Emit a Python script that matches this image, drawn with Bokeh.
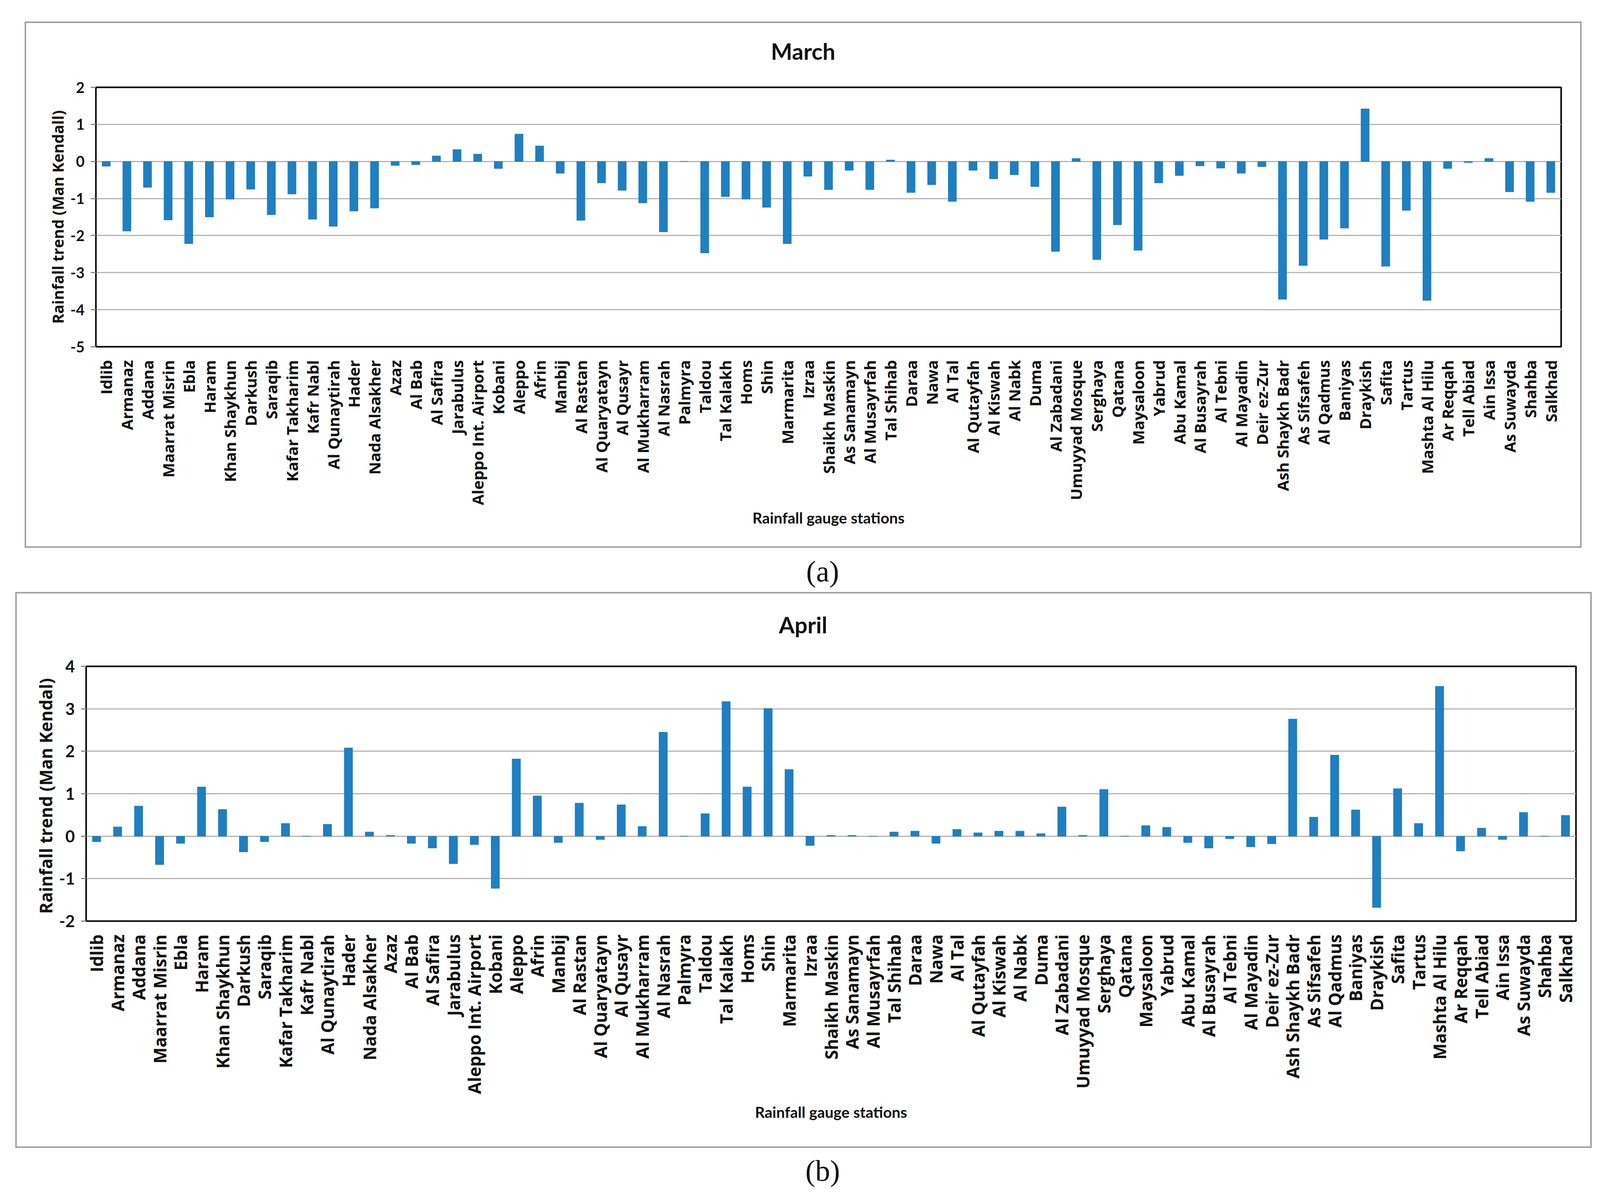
import math
from bokeh.plotting import figure
from bokeh.models import FactorRange, Range1d, FixedTicker, Div
from bokeh.layouts import column
from bokeh.embed import file_html
from bokeh.resources import INLINE

stations = ["Idlib", "Armanaz", "Addana", "Maarrat Misrin", "Ebla", "Haram", "Khan Shaykhun",
            "Darkush", "Saraqib", "Kafar Takharim", "Kafr Nabl", "Al Qunaytirah", "Hader",
            "Nada Alsakher", "Azaz", "Al Bab", "Al Safira", "Jarabulus", "Aleppo Int. Airport",
            "Kobani", "Aleppo", "Afrin", "Manbij", "Al Rastan", "Al Quaryatayn", "Al Qusayr",
            "Al Mukharram", "Al Nasrah", "Palmyra", "Taldou", "Tal Kalakh", "Homs", "Shin",
            "Marmarita", "Izraa", "Shaikh Maskin", "As Sanamayn", "Al Musayrfah", "Tal Shihab",
            "Daraa", "Nawa", "Al Tal", "Al Qutayfah", "Al Kiswah", "Al Nabk", "Duma",
            "Al Zabadani", "Umuyyad Mosque", "Serghaya", "Qatana", "Maysaloon", "Yabrud",
            "Abu Kamal", "Al Busayrah", "Al Tebni", "Al Mayadin", "Deir ez-Zur",
            "Ash Shaykh Badr", "As Sifsafeh", "Al Qadmus", "Baniyas", "Draykish", "Safita",
            "Tartus", "Mashta Al Hilu", "Ar Reqqah", "Tell Abiad", "Ain Issa", "As Suwayda",
            "Shahba", "Salkhad"]

march = [-0.13, -1.88, -0.70, -1.58, -2.22, -1.50, -1.02, -0.75, -1.44, -0.88,
         -1.56, -1.75, -1.34, -1.26, -0.11, -0.09, 0.15, 0.32, 0.20, -0.19,
         0.74, 0.42, -0.32, -1.59, -0.58, -0.78, -1.12, -1.90, 0.0, -2.47,
         -0.95, -1.02, -1.24, -2.22, -0.40, -0.76, -0.24, -0.76, 0.04, -0.84,
         -0.63, -1.08, -0.24, -0.47, -0.36, -0.68, -2.43, 0.08, -2.65, -1.71,
         -2.40, -0.58, -0.38, -0.12, -0.18, -0.32, -0.14, -3.72, -2.81, -2.10,
         -1.80, 1.42, -2.83, -1.32, -3.75, -0.19, -0.03, 0.08, -0.82, -1.08, -0.84]

april = [-0.13, 0.22, 0.71, -0.67, -0.17, 1.16, 0.63, -0.37, -0.13, 0.30,
         0.0, 0.28, 2.08, 0.10, 0.02, -0.17, -0.28, -0.65, -0.20, -1.23,
         1.82, 0.95, -0.15, 0.78, -0.08, 0.74, 0.23, 2.45, 0.0, 0.53,
         3.17, 1.16, 3.01, 1.57, -0.22, 0.02, 0.02, 0.0, 0.10, 0.12,
         -0.17, 0.16, 0.08, 0.12, 0.12, 0.06, 0.69, 0.02, 1.10, 0.0,
         0.25, 0.21, -0.15, -0.28, -0.06, -0.25, -0.18, 2.76, 0.45, 1.91,
         0.62, -1.68, 1.12, 0.30, 3.53, -0.35, 0.19, -0.08, 0.56, 0.0, 0.49]

march_ticks = [-5, -4, -3, -2, -1, 0, 1, 2]
april_ticks = [-2, -1, 0, 1, 2, 3, 4]

BAR = "#1f7fc0"
BORDER = {"border": "4px solid #a3a3a3"}


def make_fig(vals, ylabel, ticks, W, H, fl, fr, ft, fb,
             lab_px, tick_px, ylab_px, xlab_standoff, ylab_standoff):
    p = figure(width=W, height=H, x_range=FactorRange(factors=stations),
               y_range=Range1d(ticks[0], ticks[-1]),
               output_backend="svg", toolbar_location=None,
               min_border_left=fl, min_border_right=fr,
               min_border_top=ft, min_border_bottom=fb, margin=0,
               background_fill_color="white", border_fill_color="white")
    p.vbar(x=stations, top=vals, bottom=0, width=0.4, fill_color=BAR,
           line_color=BAR)
    p.outline_line_color = "black"
    p.outline_line_width = 4
    p.xgrid.grid_line_color = None
    p.ygrid.grid_line_color = "#b5b5b5"
    p.ygrid.grid_line_width = 3
    p.ygrid.ticker = FixedTicker(ticks=ticks)

    ya = p.yaxis[0]
    ya.ticker = FixedTicker(ticks=ticks)
    ya.major_label_overrides = {t: str(t) for t in ticks}
    ya.axis_line_color = "black"
    ya.axis_line_width = 3
    ya.major_tick_out = 13
    ya.major_tick_in = 0
    ya.major_tick_line_color = "#888888"
    ya.major_tick_line_width = 3
    ya.minor_tick_line_color = None
    ya.major_label_standoff = 16
    ya.major_label_text_font = "Lato"
    ya.major_label_text_font_style = "bold"
    ya.major_label_text_font_size = tick_px
    ya.major_label_text_color = "#111111"
    ya.axis_label = ylabel
    ya.axis_label_text_font = "Open Sans"
    ya.axis_label_text_font_style = "bold"
    ya.axis_label_text_font_size = ylab_px
    ya.axis_label_text_color = "#111111"
    ya.axis_label_standoff = ylab_standoff

    xa = p.xaxis[0]
    xa.axis_line_color = None
    xa.major_tick_line_color = None
    xa.minor_tick_line_color = None
    xa.major_label_orientation = math.pi / 2
    xa.major_label_standoff = 28
    xa.major_label_text_font = "Open Sans"
    xa.major_label_text_font_style = "bold"
    xa.major_label_text_font_size = lab_px
    xa.major_label_text_color = "#111111"
    xa.axis_label = "Rainfall gauge stations"
    xa.axis_label_text_font = "Lato"
    xa.axis_label_text_font_style = "bold"
    xa.axis_label_text_font_size = "39px"
    xa.axis_label_text_color = "#111111"
    xa.axis_label_standoff = xlab_standoff
    return p


def title_div(txt, W, H, cx, cy):
    html = ('<div style="position:absolute;left:%dpx;top:%dpx;'
            'transform:translate(-50%%,-50%%);font-family:Lato;font-weight:bold;'
            'font-size:58px;line-height:1.2;color:#111;white-space:nowrap">%s</div>'
            % (cx, cy, txt))
    return Div(text=html, width=W, height=H, margin=0,
               styles={"position": "relative", "background": "white"})


def caption(txt, h, top):
    html = ('<div style="position:absolute;left:2106px;top:%dpx;'
            'transform:translateX(-50%%);font-family:\'Liberation Serif\';'
            'font-size:76px;line-height:76px;color:#111;white-space:nowrap">%s</div>'
            % (top, txt))
    return Div(text=html, width=4075, height=h, margin=0,
               styles={"position": "relative"})


fa = make_fig(march, "Rainfall trend (Man Kendall)", march_ticks,
              3978, 1209, 178, 49, 34, 511, "40px", "38px", "39px", 6, 3)
ta = title_div("March", 3978, 130, 1989, 72)
panel_a = column(ta, fa, margin=(55, 0, 0, 63), spacing=0, styles=BORDER)

fb_ = make_fig(april, "Rainfall trend  (Man Kendal)", april_ticks,
               4028, 1285, 177, 37, 56, 577, "44px", "42px", "44px", 20, 1)
tb = title_div("April", 4028, 130, 2013, 80)
panel_b = column(tb, fb_, margin=(0, 0, 0, 39), spacing=0, styles=BORDER)

ca = caption("(a)", 113, 22)
cb = caption("(b)", 110, 20)

layout = column(panel_a, ca, panel_b, cb, spacing=0)
open("out.html", "w").write(file_html(layout, INLINE))
